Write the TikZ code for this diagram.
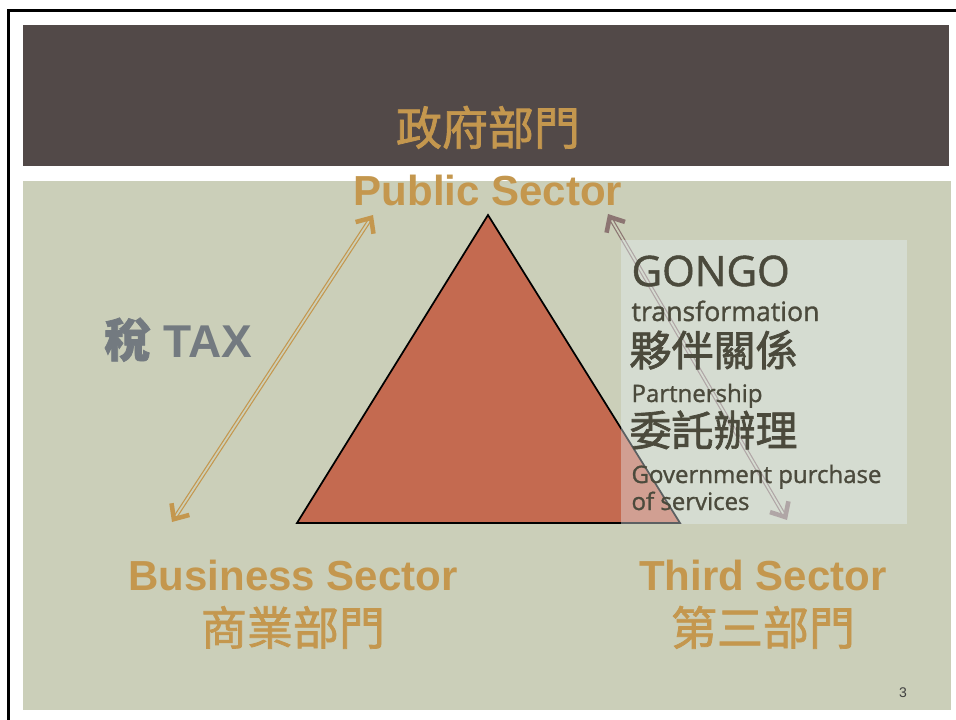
\documentclass[tikz,border=0pt]{standalone}
\usepackage{fontspec}
\setmainfont{Liberation Sans}
\newfontfamily\cjkfont{Noto Sans CJK TC}[FakeBold=1.6]
\newfontfamily\boxfont{Open Sans}[FakeBold=1.2]
\usetikzlibrary{positioning,arrows.meta}

\definecolor{barbrown}{HTML}{524948}
\definecolor{panelgreen}{HTML}{CBCFB9}
\definecolor{sectorgold}{HTML}{C4974E}
\definecolor{trired}{HTML}{C46A50}
\definecolor{taxgray}{HTML}{737A80}
\definecolor{boxtext}{HTML}{4B4A3C}
\definecolor{linkbrown}{HTML}{8C7572}
\definecolor{boxfill}{HTML}{E6F0F5}

\begin{document}
\begin{tikzpicture}[x=0.75pt,y=-0.75pt,>=stealth,thick,
  sector/.style={anchor=base,inner sep=0pt,text=sectorgold,font=\bfseries\fontsize{31.5}{36}\selectfont},
  sectorzh/.style={anchor=base,inner sep=0pt,text=sectorgold,font=\cjkfont\fontsize{34.5}{40}\selectfont},
  boxline/.style={anchor=base west,inner sep=0pt,text=boxtext,font=\boxfont\fontsize{18}{20}\selectfont},
  boxzh/.style={anchor=base west,inner sep=0pt,text=boxtext,font=\cjkfont\fontsize{31.5}{36}\selectfont},
  linkarrow/.style={double distance=1.3pt,line width=0.9pt,
    {Straight Barb[length=9pt,width=16pt,line width=3.4pt]}-{Straight Barb[length=9pt,width=16pt,line width=3.4pt]}}]

  \useasboundingbox (0,0) rectangle (956,720);
  \fill[white] (0,0) rectangle (956,720);
  \draw[black,line width=2pt] (8.5,10.5) rectangle (980,740);

  % slide background
  \fill[barbrown] (23,25) rectangle (949,166);
  \fill[panelgreen] (23,181) rectangle (951,710);

  % triangle of the three sectors
  \coordinate (top) at (488,215);
  \coordinate (left) at (297,523);
  \coordinate (right) at (680,523);
  \filldraw[fill=trired,draw=black,line width=1.3pt] (top) -- (left) -- (right) -- cycle;

  % arrow to the third sector, under the box
  \coordinate (thirdhigh) at (608,214);
  \coordinate (thirdlow) at (787,520);
  \draw[linkarrow,draw=linkbrown,double=panelgreen] (thirdhigh) -- (thirdlow);

  \fill[boxfill,opacity=0.4] (621,240) rectangle (907,524);

  \node[boxline,font=\boxfont\fontsize{31.5}{36}\selectfont] (gongo) at (631,286) {GONGO};
  \node[boxline,font=\boxfont\fontsize{20}{24}\selectfont] (transform) at (631,321) {transformation};
  \node[boxzh] (partnerzh) at (629,366) {夥伴關係};
  \node[boxline] (partner) at (631,402) {Partnership};
  \node[boxzh] (purchasezh) at (629,446) {委託辦理};
  \node[boxline] (purchase) at (631,483) {Government purchase};
  \node[boxline] (services) at (631,510) {of services};

  % tax arrow
  \coordinate (taxlow) at (172,522);
  \coordinate (taxhigh) at (373,215);
  \draw[linkarrow,draw=sectorgold,double=panelgreen] (taxlow) -- (taxhigh);

  \node[anchor=base west,inner sep=0pt,text=taxgray,font=\bfseries\fontsize{34.5}{40}\selectfont]
    (tax) at (104,357) {{\cjkfont 稅} TAX};

  % sector labels
  \node[sectorzh] (publiczh) at (488,145) {政府部門};
  \node[sector] (public) at (488,206) {Public Sector};
  \node[sector] (business) at (293,590) {Business Sector};
  \node[sectorzh] (businesszh) at (293,645) {商業部門};
  \node[sector] (third) at (763,590) {Third Sector};
  \node[sectorzh] (thirdzh) at (763,645) {第三部門};

  \node[anchor=base,inner sep=0pt,text=black!75,font=\fontsize{10.5}{12}\selectfont] (page) at (903,697) {3};
\end{tikzpicture}
\end{document}
